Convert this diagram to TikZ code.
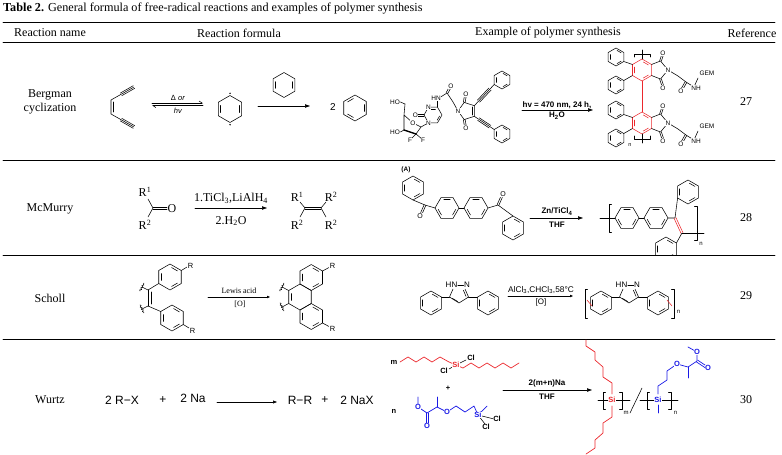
\documentclass[tikz,border=0pt]{standalone}
\usepackage{fontspec}
\setmainfont{Liberation Serif}
\newfontfamily\chemsf{Liberation Sans}
\usetikzlibrary{arrows.meta, positioning, calc, decorations.pathmorphing}
\definecolor{chemred}{RGB}{235, 40, 45}
\definecolor{chemblue}{RGB}{25, 25, 230}

\tikzset{
  tabrule/.style={line width=0.9pt},
  cell/.style={font=\fontsize{12}{14}\selectfont, align=center, inner sep=0pt},
  rlabel/.style={font=\fontsize{12}{13}\selectfont, inner sep=0.5pt},
  atom/.style={font=\chemsf\fontsize{6.5}{7}\selectfont, inner sep=0.3pt, fill=white},
  watom/.style={font=\chemsf\bfseries\fontsize{7.5}{8}\selectfont, inner sep=0.3pt, fill=white},
  cond/.style={font=\chemsf\bfseries\fontsize{8}{9}\selectfont, inner sep=0.5pt},
  wz/.style={font=\chemsf\fontsize{12}{13}\selectfont, inner sep=0pt},
  rxn/.style={-{Triangle[length=5pt,width=3.4pt]}, line width=0.6pt},
  bd/.style={line width=0.55pt},
}

\newcommand{\hexa}[4][]{%
  \begin{scope}[shift={#2}]
    \draw[bd,#1] (#4:#3) \foreach \k in {1,...,5} {-- (#4+\k*60:#3)} -- cycle;
  \end{scope}}
\newcommand{\inb}[4][]{%
  \begin{scope}[shift={#2}]
    \draw[bd,#1] (#4+9:0.74*#3) -- (#4+51:0.74*#3);
  \end{scope}}
\newcommand{\benz}[4][]{%
  \hexa[#1]{#2}{#3}{#4}
  \foreach \j in {0,120,240} {\inb[#1]{#2}{#3}{#4+\j}}}
\newcommand{\offl}[4][]{%
  \draw[bd,#1] ($#3!#2!90:#4$) -- ($#4!#2!-90:#3$);
  \draw[bd,#1] ($#3!#2!-90:#4$) -- ($#4!#2!90:#3$);}
\newcommand{\wavy}[2]{\draw[bd, decorate, decoration={snake, amplitude=0.8pt, segment length=2.5pt}] #1 -- #2;}
\newcommand{\lbrk}[3]{\draw[bd] (#1+2.5,#2) -- (#1,#2) -- (#1,#3) -- (#1+2.5,#3);}
\newcommand{\rbrk}[3]{\draw[bd] (#1-2.5,#2) -- (#1,#2) -- (#1,#3) -- (#1-2.5,#3);}

\newcommand{\bgmunit}[2]{%
  \begin{scope}[shift={(0,#1)}]
    \hexa[chemred]{(642,70)}{11}{30}
    \inb[chemred]{(642,70)}{11}{30}
    \inb[chemred]{(642,70)}{11}{150}
    \inb[chemred]{(642,70)}{11}{270}
    \benz{(616,57)}{9}{30}
    \benz{(616,85)}{9}{30}
    \draw[bd] (632.5,64.5) -- (623.8,61.5);
    \draw[bd] (632.5,75.5) -- (623.8,80.5);
    \draw[bd] (651.5,64.5) -- (660.5,61) -- (668,70) -- (660.5,79) -- (651.5,75.5);
    \offl{0.9pt}{(660.5,61)}{(662.5,55)}
    \offl{0.9pt}{(660.5,79)}{(662.5,85)}
    \draw[bd] (668,70) -- (678,76) -- (686,82) -- (694,87);
    \offl{0.9pt}{(686,82)}{(682,89)}
    \draw[bd] (694,87) -- (698,78);
    \node[atom] (oa#2) at (663,53) {O};
    \node[atom] (ob#2) at (663,88) {O};
    \node[atom] (na#2) at (668,70) {N};
    \node[atom] (oc#2) at (681,91) {O};
    \node[atom] (nh#2) at (696,88) {NH};
    \node[atom] (gem#2) at (707,73) {GEM};
  \end{scope}}

\newcommand{\pyrazole}[2]{%
  \begin{scope}[shift={(#1,0)}]
    \draw[bd] (453,289) -- (449.5,297) -- (459,303) -- (468.5,297) -- (465,289);
    \draw[bd] (452.3,298.3) -- (457.8,301.6);
    \draw[bd] (466,296.3) -- (463.4,290.3);
    \benz{(431,303)}{12}{30}
    \benz{(488,303)}{12}{30}
    \draw[bd] (441.4,297) -- (449.5,297);
    \draw[bd] (468.5,297) -- (477.6,297);
    \node[atom, font=\chemsf\fontsize{8}{9}\selectfont] (hn#2) at (451.5,285) {HN};
    \node[atom, font=\chemsf\fontsize{8}{9}\selectfont] (nn#2) at (467,285) {N};
    \draw[bd] (hn#2.east) -- (nn#2.west);
  \end{scope}}

\begin{document}
\begin{tikzpicture}[x=1pt, y=-1pt, line join=round, line cap=round]
  \useasboundingbox (0,0) rectangle (782,455);

  \node[anchor=west, font=\fontsize{12.2}{13}\selectfont, inner sep=0pt] (title) at (3,9) {\textbf{Table 2.} General formula of free-radical reactions and examples of polymer synthesis};
  \draw[tabrule] (3,22) -- (775,22);
  \draw[tabrule] (3,42) -- (775,42);
  \foreach \yy in {160,255,339} \draw[line width=0.7pt] (3,\yy) -- (775,\yy);

  \node[cell] (hname) at (50,33) {Reaction name};
  \node[cell] (hform) at (239,33) {Reaction formula};
  \node[cell] (hexmp) at (548,33) {Example of polymer synthesis};
  \node[cell] (href) at (752,33) {Reference};

  \node[cell] (bergman) at (50,102) {Bergman\\cyclization};
  \node[cell] (mcmurry) at (50,209) {McMurry};
  \node[cell] (scholl) at (50,298) {Scholl};
  \node[cell] (wurtz) at (50,400) {Wurtz};
  \node[cell] (ref27) at (746,102) {27};
  \node[cell] (ref28) at (746,218) {28};
  \node[cell] (ref29) at (746,296) {29};
  \node[cell] (ref30) at (746,400) {30};

  % Bergman
  \draw[bd] (134,87) -- (111,100) -- (111,114) -- (134,127);
  \draw[bd] (113.7,102) -- (113.7,112);
  \offl{1.5pt}{(121,94.4)}{(134,87)}
  \offl{1.5pt}{(121,119.6)}{(134,127)}
  \coordinate (eqa) at (152,103);
  \coordinate (eqb) at (203,103);
  \coordinate (eqc) at (203,105.6);
  \coordinate (eqd) at (152,105.6);
  \draw[bd, -{Straight Barb[harpoon, length=3pt, width=4pt]}] (eqa) -- (eqb);
  \draw[bd, -{Straight Barb[harpoon, length=3pt, width=4pt]}] (eqc) -- (eqd);
  \node[font=\chemsf\fontsize{7.5}{8}\selectfont, inner sep=0pt] (delta) at (178,97.5) {Δ \textit{or}};
  \node[font=\chemsf\fontsize{7.5}{8}\selectfont, inner sep=0pt] (hv) at (178,111) {\textit{hv}};
  \hexa{(230,109)}{13.5}{30}
  \inb{(230,109)}{13.5}{150}
  \inb{(230,109)}{13.5}{330}
  \fill (230,93.3) circle (0.8pt);
  \fill (230,124.7) circle (0.8pt);
  \hexa{(284,85)}{12.5}{30}
  \inb{(284,85)}{12.5}{150}
  \inb{(284,85)}{12.5}{330}
  \coordinate (ba) at (258,106);
  \coordinate (bb) at (310,106);
  \draw[rxn] (ba) -- (bb);
  \node[font=\chemsf\fontsize{10}{11}\selectfont] (two) at (333,107) {2};
  \benz{(355,108)}{13}{330}

  \draw[bd] (405,104) -- (404,115) -- (413,123) -- (421,127) -- (416,134) -- (404,130) -- (404,115);
  \draw[bd] (421,127) -- (428.5,122.8);
  \draw[line width=1.4pt] (416,134) -- (404,130);
  \draw[bd] (416,134) -- (411,139);
  \draw[bd] (416,134) -- (422,139);
  \hexa{(433,115)}{9}{0}
  \inb{(433,115)}{9}{0}
  \inb{(433,115)}{9}{240}
  \offl{0.9pt}{(424,115)}{(418,115)}
  \draw[bd] (437.5,107.2) -- (437.5,99) -- (447,93) -- (453,102) -- (458,111);
  \offl{0.9pt}{(447,93)}{(450,87.5)}
  \draw[bd] (458,111) -- (464.2,102.4) -- (474.3,105.7) -- (474.3,116.3) -- (464.2,119.6) -- cycle;
  \draw[bd] (471.8,107) -- (471.8,115);
  \offl{0.9pt}{(464.2,102.4)}{(465.5,95)}
  \offl{0.9pt}{(464.2,119.6)}{(465.5,127)}
  \draw[bd] (474.3,105.7) -- (494.2,84.5);
  \offl{1.5pt}{(478.5,101.2)}{(490,89)}
  \benz{(502,80)}{9}{30}
  \draw[bd] (474.3,116.3) -- (494.2,129.5);
  \offl{1.5pt}{(478.5,119.1)}{(490,126.7)}
  \benz{(502,134)}{9}{30}
  \node[atom] (ho1) at (395,102) {HO};
  \node[atom] (ho2) at (395,132) {HO};
  \node[atom] (os1) at (413,123) {O};
  \node[atom] (oc1) at (415.5,115.5) {O};
  \node[atom] (np1) at (428.5,107.2) {N};
  \node[atom] (np2) at (428.5,122.8) {N};
  \node[atom] (hnb) at (436,98) {HN};
  \node[atom] (oam) at (451,86) {O};
  \node[atom] (nmal) at (458,111) {N};
  \node[atom] (om1) at (466,94) {O};
  \node[atom] (om2) at (466,128) {O};
  \node[atom] (f1) at (410,140) {F};
  \node[atom] (f2) at (423,140) {F};
  \draw[bd] (ho1.east) -- (405,104);
  \draw[bd] (ho2.east) -- (404,130);

  \coordinate (pa) at (522,110);
  \coordinate (pb) at (593,110);
  \draw[rxn] (pa) -- (pb);
  \node[cond] (c27a) at (557,105) {hv = 470 nm, 24 h,};
  \node[cond] (c27b) at (557,115.5) {H\textsubscript{2}O};

  \bgmunit{0}{u}
  \bgmunit{53}{l}
  \draw[bd, chemred, line width=0.7pt] (642,81) -- (642,112);
  \draw[bd] (642,59) -- (642,50);
  \draw[bd] (634,57) -- (634,54) -- (650,54) -- (650,57);
  \draw[bd] (642,134) -- (642,143);
  \draw[bd] (634,136) -- (634,139) -- (650,139) -- (650,136);
  \node[font=\chemsf\fontsize{5.5}{6}\selectfont] (nb) at (630,145) {n};

  % McMurry
  \coordinate (mc) at (153,208);
  \draw[bd] (148,199) -- (mc) -- (148,217);
  \offl{1.2pt}{(mc)}{(167,208)}
  \node[rlabel] (r1a) at (145,192) {R\textsuperscript{1}};
  \node[rlabel] (r2a) at (145,225) {R\textsuperscript{2}};
  \node[rlabel] (oa) at (172,208.5) {O};
  \coordinate (ma) at (195,208);
  \coordinate (mb) at (267,208);
  \draw[rxn] (ma) -- (mb);
  \node[rlabel] (mc1) at (231,198) {1.TiCl\textsubscript{3},LiAlH\textsubscript{4}};
  \node[rlabel] (mc2) at (231,221) {2.H\textsubscript{2}O};
  \coordinate (mp1) at (305,208);
  \coordinate (mp2) at (321,208);
  \offl{1.2pt}{(mp1)}{(mp2)}
  \draw[bd] (300,202) -- (mp1) -- (300,217);
  \draw[bd] (326,202) -- (mp2) -- (326,217);
  \node[rlabel] (r1b) at (297,197) {R\textsuperscript{1}};
  \node[rlabel] (r2b) at (297,225) {R\textsuperscript{2}};
  \node[rlabel] (r2c) at (331,197) {R\textsuperscript{2}};
  \node[rlabel] (r2d) at (331,225) {R\textsuperscript{2}};

  \node[font=\chemsf\bfseries\fontsize{6.5}{7}\selectfont] (lblA) at (406,170) {(A)};
  \benz{(413,188)}{12}{30}
  \coordinate (ka) at (425,205);
  \draw[bd] (413,200) -- (ka) -- (435,208);
  \offl{0.9pt}{(ka)}{(421.5,213)}
  \benz{(447,208)}{12}{0}
  \draw[bd] (459,208) -- (464,208);
  \benz{(476,208)}{12}{0}
  \coordinate (kb) at (498,205);
  \draw[bd] (488,208) -- (kb) -- (513,216);
  \offl{0.9pt}{(kb)}{(501.5,197)}
  \benz{(513,228)}{12}{30}
  \node[atom, font=\chemsf\fontsize{7}{8}\selectfont] (oka) at (420,216) {O};
  \node[atom, font=\chemsf\fontsize{7}{8}\selectfont] (okb) at (503,194.5) {O};
  \coordinate (za) at (530,218);
  \coordinate (zb) at (583,218);
  \draw[rxn] (za) -- (zb);
  \node[cond] (c28a) at (557,211.5) {Zn/TiCl\textsubscript{4}};
  \node[cond] (c28b) at (557,225) {THF};
  \draw[bd] (600,218) -- (615,218);
  \lbrk{609}{204}{232}
  \benz{(627,218)}{12}{0}
  \draw[bd] (639,218) -- (644,218);
  \benz{(656,218)}{12}{0}
  \coordinate (kc) at (675,218);
  \coordinate (kd) at (682,233);
  \draw[bd] (668,218) -- (kc) -- (677.6,198);
  \benz{(688,192)}{12}{30}
  \offl[chemred]{1pt}{(kc)}{(kd)}
  \begin{scope}
    \clip (600,160) rectangle (720,254);
    \draw[bd] (kd) -- (676.4,243);
    \benz{(666,249)}{12}{30}
  \end{scope}
  \draw[bd] (kd) -- (704,233);
  \rbrk{697}{206}{240}
  \node[font=\chemsf\fontsize{6}{7}\selectfont] (nk) at (701,244) {n};

  % Scholl
  \coordinate (sa) at (148,290);
  \coordinate (sb) at (148,306);
  \draw[bd] (sa) -- (sb);
  \draw[bd] (150.8,292) -- (150.8,304);
  \draw[bd] (sa) -- (142,287);
  \draw[bd] (sb) -- (142,309);
  \wavy{(140,291)}{(144,283)}
  \wavy{(140,305)}{(144,313)}
  \benz{(170,277)}{13}{30}
  \benz{(172,318)}{13}{30}
  \draw[bd] (sa) -- (158.7,283.5);
  \draw[bd] (sb) -- (160.7,311.5);
  \draw[bd] (181.3,270.5) -- (187,267);
  \draw[bd] (183.3,324.5) -- (189,328);
  \node[atom, font=\chemsf\fontsize{7.5}{8}\selectfont] (rs1) at (190.5,265.5) {R};
  \node[atom, font=\chemsf\fontsize{7.5}{8}\selectfont] (rs2) at (192.5,330.5) {R};
  \coordinate (sla) at (208,297);
  \coordinate (slb) at (270,297);
  \draw[bd, -{Triangle[length=3pt,width=2.4pt]}] (sla) -- (slb);
  \node[font=\fontsize{8}{9}\selectfont] (lewis) at (239,291) {Lewis acid};
  \node[font=\fontsize{8}{9}\selectfont] (ox1) at (240,304) {[O]};
  \hexa{(300,297)}{13}{30}
  \inb{(300,297)}{13}{150}
  \benz{(311.26,277.5)}{13}{30}
  \benz{(311.26,316.5)}{13}{30}
  \draw[bd] (288.74,290.5) -- (282,287);
  \draw[bd] (288.74,303.5) -- (282,307);
  \wavy{(280,291)}{(284,283)}
  \wavy{(280,303)}{(284,311)}
  \draw[bd] (322.5,271) -- (329,267.5);
  \draw[bd] (322.5,323) -- (329,326.5);
  \node[atom, font=\chemsf\fontsize{7.5}{8}\selectfont] (rs3) at (332.5,266) {R};
  \node[atom, font=\chemsf\fontsize{7.5}{8}\selectfont] (rs4) at (332.5,328.5) {R};

  \pyrazole{0}{a}
  \coordinate (aa) at (508,296);
  \coordinate (ab) at (573,296);
  \draw[bd, -{Triangle[length=3pt,width=2.4pt]}] (aa) -- (ab);
  \node[font=\chemsf\fontsize{8.3}{9}\selectfont, inner sep=0.5pt] (c29a) at (541,290) {AlCl\textsubscript{3},CHCl\textsubscript{3},58\textdegree C};
  \node[font=\chemsf\fontsize{8}{9}\selectfont, inner sep=0.5pt] (c29b) at (541,302) {[O]};
  \pyrazole{170}{b}
  \lbrk{585}{289}{318}
  \rbrk{674}{289}{318}
  \node[font=\chemsf\fontsize{6}{7}\selectfont] (np) at (678.5,312) {n};
  \draw[bd, chemred] (587,300) -- (592,306);
  \draw[bd, chemred] (667,300) -- (672,306);

  % Wurtz
  \node[wz] (w1) at (122,400) {2 R−X};
  \node[wz] (w2) at (163,400) {+};
  \node[wz] (w3) at (193,398) {2 Na};
  \coordinate (wa) at (217,402);
  \coordinate (wb) at (277,402);
  \draw[bd, -{Triangle[length=4pt,width=3pt]}] (wa) -- (wb);
  \node[wz] (w4) at (300,400) {R−R};
  \node[wz] (w5) at (325,400) {+};
  \node[wz] (w6) at (357,400) {2 NaX};

  \draw[bd, chemred, line width=0.7pt] (400,362) -- (408,357) -- (416,362) -- (424,357) -- (432,362) -- (440,357) -- (449,362) -- (456,365);
  \draw[bd, chemred, line width=0.7pt] (456,365) -- (463,368) -- (471,363) -- (479,368) -- (487,363) -- (495,368) -- (503,363) -- (511,368) -- (519,363);
  \draw[bd] (456,365) -- (466,360);
  \draw[bd] (456,365) -- (449,369);
  \node[watom] (wm) at (394,362) {m};
  \node[watom, text=chemred] (si1) at (456,365) {Si};
  \node[watom] (cl1) at (471,358) {Cl};
  \node[watom] (cl2) at (444,371) {Cl};
  \node[watom] (wplus) at (448,388) {+};
  \node[watom] (wn) at (394,411) {n};
  \draw[bd, chemblue, line width=0.7pt] (418,397) -- (418,407) -- (427,413) -- (437,407) -- (447,412) -- (456,406) -- (465,412) -- (474,406) -- (478,415) -- (487,406);
  \draw[bd, chemblue, line width=0.7pt] (437,407) -- (437,397);
  \offl[chemblue, line width=0.7pt]{1.1pt}{(427,413)}{(427,423)}
  \draw[bd] (478,415) -- (494,419);
  \draw[bd] (478,415) -- (485,424);
  \node[watom, text=chemblue] (wo1) at (418,407) {O};
  \node[watom, text=chemblue] (wo2) at (427,426) {O};
  \node[watom, text=chemblue] (wo3) at (447,412) {O};
  \node[watom, text=chemblue] (si2) at (478,415) {Si};
  \node[watom] (cl3) at (497,419) {Cl};
  \node[watom] (cl4) at (486,427) {Cl};
  \coordinate (xa) at (503,390);
  \coordinate (xb) at (592,390);
  \draw[rxn] (xa) -- (xb);
  \node[cond] (c30a) at (547,383.5) {2(m+n)Na};
  \node[cond] (c30b) at (547,396.5) {THF};

  \draw[bd, chemred, line width=0.7pt] (612,394) -- (612,383) -- (603,377) -- (603,367) -- (595,360) -- (595,352) -- (586,346) -- (586,340);
  \draw[bd, chemred, line width=0.7pt] (612,406) -- (612,417) -- (603,423) -- (603,433) -- (595,440) -- (595,448) -- (586,454);
  \draw[bd] (598,400) -- (630,400);
  \draw[bd] (630,413) -- (642,388);
  \draw[bd] (640,400) -- (678,400);
  \lbrk{603}{392}{409}
  \rbrk{622}{392}{409}
  \lbrk{647}{392}{409}
  \rbrk{671}{392}{409}
  \draw[bd, chemblue, line width=0.7pt] (658,405) -- (658,413);
  \draw[bd, chemblue, line width=0.7pt] (658,394) -- (658,386) -- (667,380) -- (667,371) -- (677,364) -- (688,367) -- (697,361) -- (697,352) -- (688,347);
  \draw[bd, chemblue, line width=0.7pt] (688,367) -- (688,378);
  \offl[chemblue, line width=0.7pt]{1.1pt}{(697,361)}{(706,367)}
  \node[watom, text=chemred] (si3) at (612,400) {Si};
  \node[watom, text=chemblue] (si4) at (658,400) {Si};
  \node[watom, text=chemblue] (wo4) at (677,364) {O};
  \node[watom, text=chemblue] (wo5) at (708,368) {O};
  \node[watom, text=chemblue] (wo6) at (697,352) {O};
  \node[font=\chemsf\fontsize{6}{7}\selectfont] (wpm) at (626,413) {m};
  \node[font=\chemsf\fontsize{6}{7}\selectfont] (wpn) at (675.5,413) {n};
\end{tikzpicture}
\end{document}
